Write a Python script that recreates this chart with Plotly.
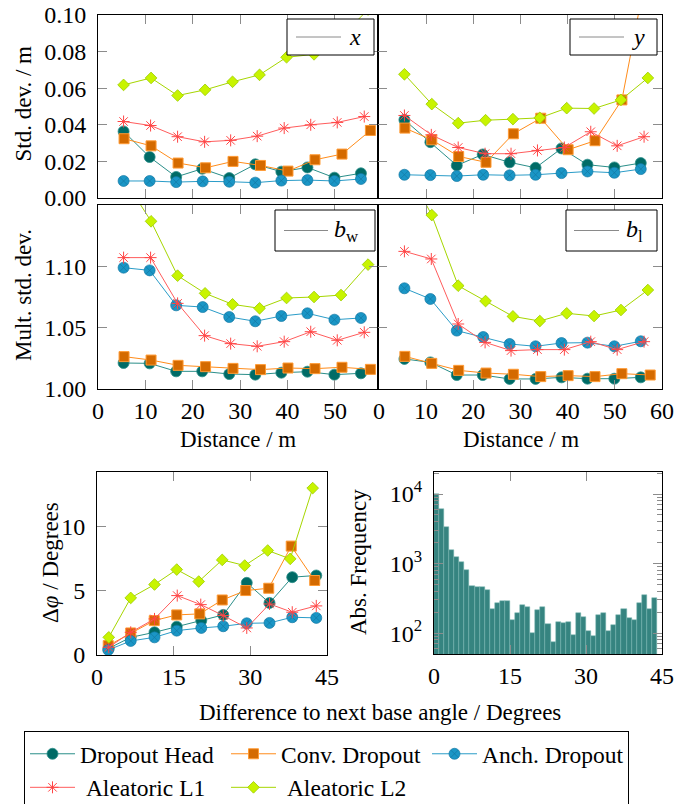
import plotly.graph_objects as go

W, H = 675, 804
FONT = "Liberation Serif"

# ---------------- data ----------------
# distances (m) of the binned points per method
dist_head = [5.4, 10.9, 16.5, 22.0, 27.7, 33.2, 38.7, 44.2, 49.9, 55.5]
dist_conv = [5.5, 11.2, 16.9, 22.7, 28.5, 34.3, 40.1, 45.8, 51.5, 57.5]
dist_anch = [5.4, 10.9, 16.5, 22.1, 27.7, 33.2, 38.7, 44.2, 49.9, 55.5]
dist_l1 = [5.4, 11.1, 16.8, 22.5, 28.0, 33.6, 39.3, 44.9, 50.5, 56.2]
dist_l2 = [5.4, 11.2, 16.8, 22.6, 28.4, 34.1, 39.8, 45.6, 51.3, 57.0]

# std dev x (m)
sx_head = [0.0364, 0.0224, 0.0115, 0.0160, 0.0109, 0.0184, 0.0144, 0.0167, 0.0111, 0.0135]
sx_conv = [0.0324, 0.0285, 0.0191, 0.0165, 0.0200, 0.0178, 0.0147, 0.0209, 0.0240, 0.0369]
sx_anch = [0.0093, 0.0093, 0.0087, 0.0091, 0.0089, 0.0084, 0.0095, 0.0098, 0.0093, 0.0104]
sx_l1 = [0.0418, 0.0396, 0.0335, 0.0307, 0.0315, 0.0338, 0.0382, 0.0400, 0.0413, 0.0445]
sx_l2 = [0.0618, 0.0656, 0.0560, 0.0591, 0.0635, 0.0673, 0.0769, 0.0785, 0.0880, 0.1030]

# std dev y (m)
sy_head = [0.0427, 0.0305, 0.0178, 0.0238, 0.0195, 0.0165, 0.0271, 0.0182, 0.0167, 0.0191]
sy_conv = [0.0382, 0.0318, 0.0227, 0.0195, 0.0351, 0.0436, 0.0264, 0.0313, 0.0536, 0.1340]
sy_anch = [0.0127, 0.0125, 0.0120, 0.0127, 0.0124, 0.0127, 0.0136, 0.0145, 0.0138, 0.0158]
sy_l1 = [0.0451, 0.0345, 0.0276, 0.0242, 0.0242, 0.0260, 0.0276, 0.0362, 0.0285, 0.0335]
sy_l2 = [0.0676, 0.0513, 0.0409, 0.0425, 0.0431, 0.0438, 0.0491, 0.0489, 0.0536, 0.0656]

# multiplicative std dev b_w
bw_head = [1.0212, 1.0209, 1.0144, 1.0144, 1.0122, 1.0117, 1.0133, 1.0141, 1.0117, 1.0128]
bw_conv = [1.0264, 1.0236, 1.0193, 1.0182, 1.0168, 1.0158, 1.0171, 1.0166, 1.0177, 1.0160]
bw_anch = [1.0989, 1.0967, 1.0682, 1.0668, 1.0587, 1.0552, 1.0595, 1.0617, 1.0565, 1.0579]
bw_l1 = [1.1071, 1.1071, 1.0698, 1.0435, 1.0370, 1.0348, 1.0386, 1.0467, 1.0397, 1.0462]
bw_l2 = [1.1720, 1.1367, 1.0924, 1.0780, 1.0690, 1.0658, 1.0742, 1.0750, 1.0766, 1.1014]

# multiplicative std dev b_l
bl_head = [1.0245, 1.0217, 1.0114, 1.0114, 1.0082, 1.0082, 1.0095, 1.0084, 1.0084, 1.0095]
bl_conv = [1.0266, 1.0209, 1.0152, 1.0130, 1.0120, 1.0101, 1.0109, 1.0101, 1.0125, 1.0114]
bl_anch = [1.0821, 1.0734, 1.0476, 1.0424, 1.0367, 1.0348, 1.0375, 1.0378, 1.0348, 1.0389]
bl_l1 = [1.1122, 1.1060, 1.0530, 1.0380, 1.0313, 1.0321, 1.0321, 1.0386, 1.0321, 1.0386]
bl_l2 = [1.1834, 1.1418, 1.0842, 1.0717, 1.0592, 1.0554, 1.0617, 1.0595, 1.0644, 1.0807]

# angle difference (degrees) bins per method
ang_head = [2.3, 6.6, 11.25, 15.6, 20.4, 24.7, 29.3, 33.75, 38.2, 42.9]
ang_conv = [2.2, 6.6, 11.2, 15.6, 20.1, 24.5, 29.1, 33.6, 38.0, 42.6]
ang_anch = [2.2, 6.6, 11.25, 15.6, 20.4, 24.7, 29.3, 33.75, 38.2, 42.9]
ang_l1 = [2.3, 6.6, 11.25, 15.7, 20.3, 24.7, 29.3, 33.75, 38.2, 42.9]
ang_l2 = [2.3, 6.6, 11.25, 15.6, 19.9, 24.5, 28.9, 33.4, 37.8, 42.2]

# delta phi (degrees)
dphi_head = [0.52, 1.37, 1.76, 2.20, 2.67, 3.11, 5.60, 4.04, 6.04, 6.17]
dphi_conv = [0.73, 1.71, 2.67, 3.11, 3.19, 4.27, 5.00, 5.18, 8.45, 5.78]
dphi_anch = [0.39, 1.09, 1.37, 1.89, 2.10, 2.23, 2.46, 2.49, 2.93, 2.88]
dphi_l1 = [0.60, 1.76, 2.80, 4.61, 3.91, 3.06, 2.10, 3.96, 3.32, 3.81]
dphi_l2 = [1.37, 4.43, 5.47, 6.63, 5.70, 7.38, 6.94, 8.11, 7.46, 12.95]

# histogram of difference to next base angle (1 degree bins)
hist_centers = [i + 0.5 for i in range(44)]
hist_counts = [9900, 6030, 3320, 1565, 1227, 1062, 806, 479, 455, 463,
               411, 226, 273, 286, 286, 157, 192, 255, 234, 99,
               214, 239, 135, 75, 143, 139, 143, 94, 192, 168,
               107, 91, 182, 192, 108, 130, 183, 219, 163, 154,
               267, 352, 226, 316]

# tick labels
std_ticks = [0.0, 0.02, 0.04, 0.06, 0.08, 0.10]
mult_ticks = [1.00, 1.05, 1.10]
dist_ticks_left = [0, 10, 20, 30, 40, 50]
dist_ticks_right = [0, 10, 20, 30, 40, 50, 60]
ang_ticks = [0, 15, 30, 45]
dphi_ticks = [0, 5, 10]
freq_ticks = [100, 1000, 10000]
freq_ticktext = ["10<sup>2</sup>", "10<sup>3</sup>", "10<sup>4</sup>"]

# ---------------- styles ----------------
series = [
    dict(key="head", name="Dropout Head", line="#2a8e89",
         marker=dict(symbol="circle", size=11, color="#006b66",
                     line=dict(color="#2a8e89", width=0.8))),
    dict(key="conv", name="Conv. Dropout", line="#ff8c1a",
         marker=dict(symbol="square", size=10, color="#d46a00",
                     line=dict(color="#ff9a33", width=1))),
    dict(key="anch", name="Anch. Dropout", line="#2a9cc8",
         marker=dict(symbol="circle-x", size=11, color="#1a96c6",
                     line=dict(color="#1479a3", width=0.7))),
    dict(key="l1", name="\u00a0Aleatoric L1", line="#ff5c5c",
         marker=dict(symbol="asterisk-open", size=10, color="#ff4545",
                     line=dict(color="#ff4545", width=1))),
    dict(key="l2", name="\u00a0Aleatoric L2", line="#a6d600",
         marker=dict(symbol="diamond", size=9, color="#c8f400",
                     line=dict(color="#9ccc00", width=0.8))),
]

dists = dict(head=dist_head, conv=dist_conv, anch=dist_anch, l1=dist_l1, l2=dist_l2)
panels = [
    ("x", "y", dict(head=sx_head, conv=sx_conv, anch=sx_anch, l1=sx_l1, l2=sx_l2), dists),
    ("x2", "y2", dict(head=sy_head, conv=sy_conv, anch=sy_anch, l1=sy_l1, l2=sy_l2), dists),
    ("x3", "y3", dict(head=bw_head, conv=bw_conv, anch=bw_anch, l1=bw_l1, l2=bw_l2), dists),
    ("x4", "y4", dict(head=bl_head, conv=bl_conv, anch=bl_anch, l1=bl_l1, l2=bl_l2), dists),
    ("x5", "y5", dict(head=dphi_head, conv=dphi_conv, anch=dphi_anch, l1=dphi_l1, l2=dphi_l2),
     dict(head=ang_head, conv=ang_conv, anch=ang_anch, l1=ang_l1, l2=ang_l2)),
]

fig = go.Figure()
for pi, (xa, ya, yvals, xvals) in enumerate(panels):
    for s in series:
        fig.add_trace(go.Scatter(
            x=xvals[s["key"]], y=yvals[s["key"]], xaxis=xa, yaxis=ya,
            mode="lines+markers", name=s["name"],
            line=dict(color=s["line"], width=1),
            marker=s["marker"], showlegend=(pi == 0)))

fig.add_trace(go.Bar(x=hist_centers, y=hist_counts, width=1, xaxis="x6", yaxis="y6",
                     marker=dict(color="#368480", line=dict(color="#7ab6b2", width=0.5)),
                     showlegend=False))


def xd(a, b):
    return [a / W, b / W]


def yd(top, bottom):
    return [1 - bottom / H, 1 - top / H]


def ax(**kw):
    d = dict(showline=True, linecolor="black", linewidth=1, mirror="allticks",
             ticks="inside", ticklen=9, tickwidth=1, tickcolor="#8c8c8c",
             showgrid=False, zeroline=False, automargin=False,
             tickfont=dict(family=FONT, size=24, color="black"))
    d.update(kw)
    return d


L0, L1, R1 = 98, 378, 662
T_TOP, T_BOT = 15, 198
M_TOP, M_BOT = 205, 389

fig.update_layout(
    width=W, height=H, margin=dict(l=0, r=0, t=0, b=0, autoexpand=False),
    paper_bgcolor="white", plot_bgcolor="white",
    font=dict(family=FONT, size=22, color="black"),
    bargap=0,
    xaxis=ax(domain=xd(L0, L1), anchor="y", range=[0, 59.1], tickvals=dist_ticks_left,
             showticklabels=False),
    yaxis=ax(domain=yd(T_TOP, T_BOT), anchor="x", range=[0, 0.10], tickvals=std_ticks,
             tickformat=".2f", ticklabelstandoff=6),
    xaxis2=ax(domain=xd(L1, R1), anchor="y2", range=[-0.2, 60], tickvals=dist_ticks_right,
              showticklabels=False),
    yaxis2=ax(domain=yd(T_TOP, T_BOT), anchor="x2", range=[0, 0.10], tickvals=std_ticks,
              showticklabels=False),
    xaxis3=ax(domain=xd(L0, L1), anchor="y3", range=[0, 59.1], tickvals=dist_ticks_left,
              ticklabelstandoff=0),
    yaxis3=ax(domain=yd(M_TOP, M_BOT), anchor="x3", range=[1.0, 1.15], tickvals=mult_ticks,
              tickformat=".2f", ticklabelstandoff=6),
    xaxis4=ax(domain=xd(L1, R1), anchor="y4", range=[-0.2, 60], tickvals=dist_ticks_right,
              ticklabelstandoff=0),
    yaxis4=ax(domain=yd(M_TOP, M_BOT), anchor="x4", range=[1.0, 1.15], tickvals=mult_ticks,
              showticklabels=False),
    xaxis5=ax(domain=xd(97, 327), anchor="y5", range=[0, 45], tickvals=ang_ticks,
              ticklabelstandoff=0),
    yaxis5=ax(domain=yd(472, 655), anchor="x5", range=[0, 14.2], tickvals=dphi_ticks,
              ticklabelstandoff=6),
    xaxis6=ax(domain=xd(434, 662), anchor="y6", range=[0, 45], tickvals=ang_ticks,
              ticklabelstandoff=0),
    yaxis6=ax(domain=yd(472, 654), anchor="x6", type="log", range=[1.7, 4.317],
              tickvals=freq_ticks, ticktext=freq_ticktext, ticklabelstandoff=6,
              minor=dict(ticks="inside", ticklen=5, tickcolor="#8c8c8c", tickwidth=1,
                         tickvals=[50, 60, 70, 80, 90, 200, 300, 400, 500, 600, 700, 800, 900,
                                   2000, 3000, 4000, 5000, 6000, 7000, 8000, 9000, 20000])),
    legend=dict(orientation="h", x=24 / W, y=1 - 731 / H, xanchor="left", yanchor="top",
                bordercolor="black", borderwidth=1, bgcolor="white",
                font=dict(family=FONT, size=23.5, color="black"),
                itemwidth=45, entrywidth=141, tracegroupgap=0),
)

# in-panel label boxes (pgfplots-style legends)
boxes = [
    (287, 374, 19, 55, 296, 341, "<i>x</i>", 355),
    (570, 657, 19, 55, 579, 624, "<i>y</i>", 638),
    (275, 375, 210, 251, 284, 328, "<i>b</i><sub>w</sub>", 346),
    (566, 657, 210, 251, 574, 619, "<i>b</i><sub>l</sub>", 634),
]
for x0, x1, y0, y1, lx0, lx1, txt, tx in boxes:
    fig.add_shape(type="rect", xref="paper", yref="paper", layer="above",
                  x0=x0 / W, x1=x1 / W, y0=1 - y1 / H, y1=1 - y0 / H,
                  line=dict(color="black", width=1), fillcolor="white")
    ym = 1 - (y0 + y1) / 2 / H
    fig.add_shape(type="line", xref="paper", yref="paper", layer="above",
                  x0=lx0 / W, x1=lx1 / W, y0=ym, y1=ym,
                  line=dict(color="#8a8a8a", width=1))
    fig.add_annotation(text=txt, xref="paper", yref="paper", x=tx / W, y=ym,
                       showarrow=False, font=dict(family=FONT, size=24),
                       xanchor="center", yanchor="middle")

# axis titles
titles = [
    ("Std. dev. / m", 23, 103.5, -90),
    ("Mult. std. dev.", 23, 295, -90),
    ("Distance / m", 238, 440, 0),
    ("Distance / m", 521, 440, 0),
    ("Δ<i>φ</i> / Degrees", 50, 563, -90),
    ("Abs. Frequency", 358, 562, -90),
    ("Difference to next base angle / Degrees", 380, 712, 0),
]
for txt, x, y, ang in titles:
    fig.add_annotation(text=txt, xref="paper", yref="paper", x=x / W, y=1 - y / H,
                       showarrow=False, textangle=ang, xanchor="center", yanchor="middle",
                       font=dict(family=FONT, size=23, color="black"))

fig.write_html("out.html", config={"displayModeBar": False},
               post_script="document.body.style.margin='0';document.body.style.overflow='hidden';")
